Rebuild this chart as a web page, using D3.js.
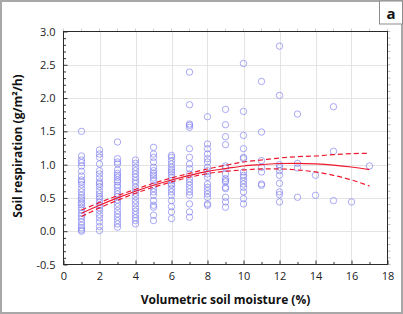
<!DOCTYPE html>
<html>
<head>
<meta charset="utf-8">
<script src="https://cdn.jsdelivr.net/npm/d3@7"></script>
<style>
  html, body { margin: 0; padding: 0; background: #fff; }
  svg { display: block; }
</style>
</head>
<body>
<script>
// ---------- data ----------
const moistureLevels = [1, 2, 3, 4, 5, 6, 7, 8, 9, 10, 11, 12, 13, 14, 15, 16, 17];
const respirationByLevel = [
  [1.5,1.13,1.07,1.03,0.98,0.9,0.83,0.77,0.74,0.7,0.64,0.59,0.54,0.5,0.47,0.43,0.4,0.36,0.32,0.27,0.23,0.19,0.14,0.09,0.05,0.02,0.0],
  [1.22,1.16,1.11,1.01,0.91,0.86,0.80,0.74,0.71,0.67,0.61,0.56,0.52,0.49,0.44,0.39,0.35,0.31,0.25,0.20,0.14,0.07,0.01],
  [1.34,1.09,1.04,1.01,0.92,0.87,0.84,0.81,0.77,0.74,0.69,0.66,0.61,0.56,0.52,0.47,0.42,0.37,0.31,0.26,0.21,0.16,0.11,0.06],
  [1.07,1.02,0.96,0.91,0.86,0.81,0.76,0.72,0.66,0.61,0.57,0.52,0.46,0.41,0.35,0.30,0.25,0.20,0.16,0.11],
  [1.26,1.16,1.11,1.04,0.96,0.91,0.87,0.84,0.80,0.76,0.69,0.64,0.59,0.54,0.46,0.39,0.36,0.24,0.16],
  [1.14,1.11,1.06,1.01,0.96,0.92,0.89,0.85,0.81,0.76,0.71,0.69,0.64,0.59,0.54,0.46,0.37,0.29,0.19],
  [2.39,1.90,1.61,1.59,1.56,1.24,1.11,1.01,0.94,0.86,0.79,0.74,0.69,0.64,0.59,0.54,0.41,0.29,0.21],
  [1.72,1.31,1.24,1.16,1.09,1.04,0.96,0.91,0.86,0.81,0.71,0.66,0.61,0.56,0.51,0.41,0.39],
  [1.83,1.60,1.42,1.30,0.98,0.95,0.86,0.79,0.76,0.74,0.66,0.64,0.51,0.44,0.36],
  [2.52,1.80,1.44,1.24,1.11,1.09,0.89,0.84,0.81,0.76,0.71,0.66,0.59,0.49,0.41],
  [2.25,1.49,1.06,0.96,0.89,0.71,0.69],
  [2.78,2.04,1.00,0.96,0.91,0.84,0.72,0.59,0.55,0.44],
  [1.76,1.02,0.95,0.51],
  [0.84,0.54],
  [1.87,1.20,0.46],
  [0.44],
  [0.98]
];
const fitMoisture = [1, 2, 3, 4, 5, 6, 7, 8, 9, 10, 11, 12, 13, 14, 15, 16, 17];
const fitMean  = [0.27,0.39,0.50,0.60,0.69,0.77,0.84,0.90,0.94,0.98,1.00,1.017,1.02,1.012,0.994,0.965,0.925];
const fitUpper = [0.32,0.43,0.535,0.63,0.72,0.80,0.87,0.935,0.99,1.04,1.07,1.10,1.12,1.13,1.15,1.165,1.17];
const fitLower = [0.22,0.35,0.465,0.57,0.66,0.74,0.81,0.865,0.90,0.92,0.935,0.935,0.92,0.89,0.84,0.77,0.68];
const xTickValues = [0, 2, 4, 6, 8, 10, 12, 14, 16, 18];
const yTickValues = [-0.5, 0, 0.5, 1, 1.5, 2, 2.5, 3];
const yTickLabels = ["-0.5", "0.0", "0.5", "1.0", "1.5", "2.0", "2.5", "3.0"];
const xTitle = "Volumetric soil moisture (%)";
const yTitle = "Soil respiration (g/m\u00B2/h)";
const panelLabel = "a";

// ---------- layout ----------
const W = 403, H = 314;
const m = { left: 63.5, right: 387.5, top: 31.5, bottom: 264.5 };
const x = d3.scaleLinear().domain([0, 18]).range([m.left, m.right]);
const y = d3.scaleLinear().domain([-0.5, 3]).range([m.bottom, m.top]);

const svg = d3.select("body").append("svg").attr("width", W).attr("height", H);
const font = "'Open Sans', 'Noto Sans', sans-serif";

// outer frame
svg.append("rect").attr("x", 1).attr("y", 1).attr("width", W - 2).attr("height", H - 2)
  .attr("fill", "#fff").attr("stroke", "#a8a8a8").attr("stroke-width", 2);

// panel label box
svg.append("rect").attr("x", 379.5).attr("y", 1).attr("width", 23).attr("height", 23)
  .attr("fill", "#fff").attr("stroke", "#8c8c8c").attr("stroke-width", 1);
svg.append("text").attr("x", 391).attr("y", 18.5).attr("text-anchor", "middle")
  .attr("font-family", font).attr("font-weight", "bold").attr("font-size", 15)
  .attr("fill", "#111").text(panelLabel);

// grid
const grid = svg.append("g");
grid.selectAll("line.gx").data(xTickValues.slice(1, -1)).join("line")
  .attr("x1", d => Math.round(x(d)) + 0.5).attr("x2", d => Math.round(x(d)) + 0.5)
  .attr("y1", m.top).attr("y2", m.bottom).attr("stroke", "#e4e4e4").attr("stroke-width", 1);
grid.selectAll("line.gy").data(yTickValues.slice(1, -1)).join("line")
  .attr("y1", d => Math.round(y(d)) + 0.5).attr("y2", d => Math.round(y(d)) + 0.5)
  .attr("x1", m.left).attr("x2", m.right).attr("stroke", "#e4e4e4").attr("stroke-width", 1);

// faint outer ticks on top and right
const minorX = d3.range(0, 18.001, 1);
const minorY = d3.range(-0.5, 3.001, 0.1);
svg.append("g").selectAll("line").data(minorX).join("line")
  .attr("x1", d => x(d)).attr("x2", d => x(d)).attr("y1", m.top - 3).attr("y2", m.top)
  .attr("stroke", "#d0d0d0");
svg.append("g").selectAll("line").data(minorY).join("line")
  .attr("y1", d => y(d)).attr("y2", d => y(d)).attr("x1", m.right).attr("x2", m.right + 3)
  .attr("stroke", "#c0c0c0");

// axes (ticks inside)
const xAxis = d3.axisBottom(x).tickValues(minorX).tickSize(-3)
  .tickFormat(d => xTickValues.includes(d) ? String(d) : "");
const gx = svg.append("g").attr("transform", `translate(0,${m.bottom})`).call(xAxis);
gx.select(".domain").remove();
gx.selectAll(".tick line").attr("stroke", "#333")
  .attr("y2", d => xTickValues.includes(d) ? -4 : -2.5);
gx.selectAll("text").attr("font-family", font).attr("font-size", 11).attr("fill", "#222").attr("dy", "1.0em").attr("y", 4);

const yAxis = d3.axisLeft(y).tickValues(minorY).tickSize(-3)
  .tickFormat(d => {
    const i = yTickValues.findIndex(v => Math.abs(v - d) < 1e-6);
    return i >= 0 ? yTickLabels[i] : "";
  });
const gy = svg.append("g").attr("transform", `translate(${m.left},0)`).call(yAxis);
gy.select(".domain").remove();
gy.selectAll(".tick line").attr("stroke", "#333")
  .attr("x2", d => yTickValues.some(v => Math.abs(v - d) < 1e-6) ? 4 : 2.5);
gy.selectAll("text").attr("font-family", font).attr("font-size", 11).attr("fill", "#222").attr("x", -8);

// plot frame
svg.append("rect").attr("x", m.left).attr("y", m.top)
  .attr("width", m.right - m.left).attr("height", m.bottom - m.top)
  .attr("fill", "none").attr("stroke", "#2a2a2a").attr("stroke-width", 1);

// points
const pts = [];
moistureLevels.forEach((mx, i) => respirationByLevel[i].forEach(v => pts.push([mx, v])));
svg.append("g").selectAll("circle").data(pts).join("circle")
  .attr("cx", d => x(d[0])).attr("cy", d => y(d[1])).attr("r", 3.2)
  .attr("fill", "none").attr("stroke", "#8080f0").attr("stroke-opacity", 0.85).attr("stroke-width", 0.8);

// fit lines
const line = arr => d3.line().x((d, i) => x(fitMoisture[i])).y(d => y(d)).curve(d3.curveMonotoneX)(arr);
svg.append("path").attr("d", line(fitUpper)).attr("fill", "none").attr("stroke", "#f0182e")
  .attr("stroke-width", 1.2).attr("stroke-dasharray", "5,3");
svg.append("path").attr("d", line(fitLower)).attr("fill", "none").attr("stroke", "#f0182e")
  .attr("stroke-width", 1.2).attr("stroke-dasharray", "5,3");
svg.append("path").attr("d", line(fitMean)).attr("fill", "none").attr("stroke", "#f0182e")
  .attr("stroke-width", 1.2);

// titles
svg.append("text").attr("x", (m.left + m.right) / 2).attr("y", 304).attr("text-anchor", "middle")
  .attr("font-family", font).attr("font-weight", "bold").attr("font-size", 12).attr("fill", "#111")
  .text(xTitle);
svg.append("text").attr("transform", `translate(22,${(m.top + m.bottom) / 2 - 2}) rotate(-90)`)
  .attr("text-anchor", "middle")
  .attr("font-family", font).attr("font-weight", "bold").attr("font-size", 12).attr("fill", "#111")
  .text(yTitle);
</script>
</body>
</html>
